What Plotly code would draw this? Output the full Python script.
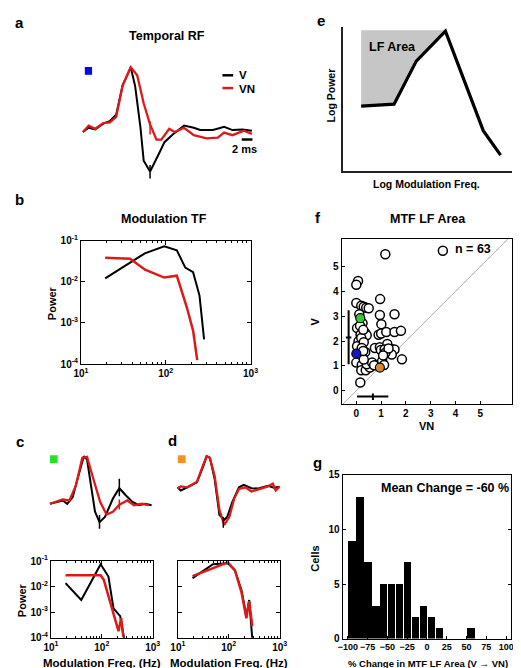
import plotly.graph_objects as go

W, H = 521, 668
FONT = "Liberation Sans, Arial, Helvetica, sans-serif"
RED = "#dd1a1a"
BLK = "#000000"

# ---------------- Panel a: temporal RF (ms, normalized amplitude) ----------------
a_t_v = [0, 1.09, 2.3, 3.82, 5.03, 6.24, 7.45, 8.97, 9.8, 10.8, 11.4, 12.6, 14.1, 15.3, 16.85, 18.97, 20.8, 22.0, 24.4, 26.5, 28.06, 29.9, 31.7]
a_v = [-0.02, 0.046, 0.02, 0.11, 0.15, 0.25, 0.71, 0.995, 0.7, 0.05, -0.47, -0.64, -0.39, -0.18, -0.06, 0.08, 0.046, 0.01, 0.01, 0.06, 0.01, 0.02, 0.0]
a_t_vn = [0, 1.09, 2.3, 3.82, 5.03, 6.24, 7.45, 8.97, 10.18, 11.4, 12.6, 13.8, 14.7, 16.2, 17.2, 18.97, 20.8, 23.2, 25.3, 26.5, 28.06, 30.2, 31.7]
a_vn = [-0.02, 0.08, 0.03, 0.12, 0.13, 0.215, 0.71, 0.995, 0.87, 0.43, 0.1, -0.14, -0.14, 0.03, -0.02, 0.046, -0.07, -0.12, -0.11, -0.03, -0.07, 0.0, -0.05]
a_err_v = (12.6, -0.54, -0.75)
a_err_vn = (12.6, 0.15, -0.06)

# ---------------- Panel b: modulation transfer function ----------------
b_f_v = [19.3, 56.7, 96, 135, 170, 210, 250, 283]
b_p_v = [0.012, 0.049, 0.072, 0.058, 0.022, 0.017, 0.0046, 0.0004]
b_f_vn = [19.3, 38, 57, 96, 135, 176, 210, 235]
b_p_vn = [0.038, 0.036, 0.0196, 0.0126, 0.014, 0.0025, 0.00065, 0.000125]

# ---------------- Panel c: example cell (green) ----------------
c_t_v = [0, 2.5, 4.0, 5.4, 7.1, 8.6, 10.6, 11.6, 13.1, 14.1, 15.5, 17.2, 19.7, 21.7, 23.7, 25.8, 27.8, 29.8, 31.8]
c_v = [-0.01, 0.03, 0.06, -0.01, 0.13, 0.51, 1.0, 0.93, 0.31, -0.18, -0.4, -0.29, 0.1, 0.32, 0.17, 0.03, -0.04, -0.01, -0.04]
c_t_vn = [0, 2.5, 4.0, 6.1, 8.1, 10.1, 11.6, 13.6, 15.7, 17.7, 19.7, 21.7, 24.2, 26.3, 28.8, 30.8]
c_vn = [-0.01, 0.04, 0.08, 0.06, 0.375, 0.965, 0.985, 0.51, 0.03, -0.24, -0.18, -0.03, 0.06, -0.04, -0.01, -0.04]
c_err_v = [(15.5, -0.25, -0.54), (21.7, 0.52, 0.15)]
c_err_vn = [(21.7, 0.08, -0.13)]
c_f_v = [19.4, 39.5, 95, 135, 170, 230, 275]
c_p_v = [0.0137, 0.003, 0.076, 0.025, 0.0014, 0.0007, 0.00009]
c_f_vn = [19.4, 60, 95, 110, 157, 213, 240, 265]
c_p_vn = [0.028, 0.028, 0.028, 0.018, 0.0017, 0.00018, 0.00058, 0.00011]

# ---------------- Panel d: example cell (orange) ----------------
d_t_v = [-0.09, 0.91, 2.94, 5.97, 7.97, 9.0, 10.0, 11.5, 13.0, 14.5, 15.45, 17.0, 19.1, 20.6, 23.0, 25.2, 28.2, 30.0, 31.8]
d_v = [0.01, -0.09, 0.01, 0.17, 0.69, 1.0, 0.95, 0.27, -0.875, -1.03, -0.93, -0.46, 0.01, 0.09, -0.02, -0.03, 0.06, 0.0, 0.03]
d_t_vn = [-0.09, 0.91, 2.94, 5.97, 7.97, 9.0, 10.0, 11.5, 13.0, 14.5, 16.1, 17.6, 19.1, 21.1, 23.0, 25.2, 28.2, 29.7, 30.6, 31.8]
d_vn = [-0.02, 0.04, 0.01, 0.19, 0.74, 1.0, 0.95, 0.375, -0.72, -1.19, -0.93, -0.35, -0.04, 0.01, -0.125, -0.06, 0.04, 0.125, -0.09, 0.03]
d_err_v = [(14.2, -0.94, -1.28)]
d_f_v = [19.4, 49, 96, 132, 178, 222, 252, 290]
d_p_v = [0.0215, 0.076, 0.083, 0.044, 0.0072, 0.0007, 0.003, 0.00009]
d_f_vn = [19.4, 96, 132, 178, 222, 252, 290]
d_p_vn = [0.026, 0.09, 0.044, 0.006, 0.00058, 0.0027, 0.00028]

# ---------------- Panel e: schematic ----------------
e_u = [1.09, 3.03, 4.34, 6.06, 8.29, 9.31]
e_v = [4.49, 4.63, 7.62, 9.69, 2.79, 1.09]
e_top = 9.75

# ---------------- Panel f: MTF LF area scatter ----------------
f_vn = [1.17, 3.49, 0.07, 0.0, 0.96, 0.0, 0.2, 0.3, 0.4, 0.5, 0.12, 0.95, 1.54, 0.25, 1.01, 0.03, 0.22,
        0.36, 0.17, 0.42, 0.9, 1.0, 1.21, 1.54, 1.8, 0.09, 0.2, 0.03, 0.36, 0.75, 0.95, 0.99, 1.25, 1.14,
        1.41, 1.54, 1.43, 1.17, 0.16, 0.0, 0.22, 0.2, 0.38, 0.55, 0.42, 0.64, 0.82, 1.04, 1.12, 1.84, 0.16,
        0.15, 0.28, 0.3, 0.22, 0.3, 0.72, 1.3, 1.08, 0.28]
f_v = [5.5, 5.64, 4.42, 4.27, 3.69, 3.53, 3.42, 3.38, 3.34, 3.32, 3.08, 3.05, 3.08, 2.72, 2.68, 2.52, 2.52,
       2.32, 2.25, 2.23, 2.25, 2.3, 2.36, 2.36, 2.41, 1.99, 2.12, 1.79, 1.56, 1.72, 1.75, 1.64, 1.88, 1.66,
       1.68, 1.66, 1.46, 1.53, 1.35, 1.13, 1.03, 0.82, 0.82, 0.93, 1.06, 1.13, 1.03, 1.19, 1.03, 1.26, 0.33,
       2.62, 2.45, 1.95, 1.72, 1.25, 1.02, 1.7, 1.42, 1.6]
f_hl_vn = [0.0, 0.16, 0.95]
f_hl_v = [1.49, 2.92, 0.93]
f_hl_col = ["#1414c8", "#33cc33", "#d88a2a"]
f_mean_v, f_lo_v, f_hi_v = 2.14, 1.06, 3.24
f_mean_vn, f_lo_vn, f_hi_vn = 0.67, 0.03, 1.29

# ---------------- Panel g: histogram ----------------
g_bins = [-95, -85, -75, -65, -55, -45, -35, -25, -15, -5, 5, 15, 25, 35, 45, 55]
g_counts = [9, 13, 7, 3, 5, 5, 5, 7, 2, 3, 2, 1, 0, 0, 0, 1]
g_ticks = [-100, -75, -50, -25, 0, 25, 50, 75, 100]


def xdom(p0, p1):
    return [p0 / W, p1 / W]


def ydom(p0, p1):
    return [1 - p1 / H, 1 - p0 / H]


def PX(x):
    return x / W


def PY(y):
    return 1 - y / H


def tfont(size=10):
    return dict(family=FONT, size=size, color="black", weight="bold")


fig = go.Figure()


def line(x, y, ax, color, width, **kw):
    fig.add_trace(go.Scatter(x=x, y=y, xaxis="x" + ax, yaxis="y" + ax, mode="lines",
                             line=dict(color=color, width=width), hoverinfo="skip", **kw))


def errs(lst, ax, color, width):
    xs, ys = [], []
    for t, lo, hi in lst:
        xs += [t, t, None]
        ys += [lo, hi, None]
    line(xs, ys, ax, color, width)


# panel a
line(a_t_v, a_v, "", BLK, 2)
line(a_t_vn, a_vn, "", RED, 2.3)
errs([a_err_v], "", BLK, 1.5)
errs([a_err_vn], "", RED, 1.5)

# panel b
line(b_f_v, b_p_v, "2", BLK, 2)
line(b_f_vn, b_p_vn, "2", RED, 2.5)

# panel c
line(c_t_v, c_v, "3", BLK, 2)
line(c_t_vn, c_vn, "3", RED, 2.3)
errs(c_err_v, "3", BLK, 1.5)
errs(c_err_vn, "3", RED, 1.5)
line(c_f_v, c_p_v, "5", BLK, 2)
line(c_f_vn, c_p_vn, "5", RED, 2.5)

# panel d
line(d_t_v, d_v, "4", BLK, 2)
line(d_t_vn, d_vn, "4", RED, 2.3)
errs(d_err_v, "4", BLK, 1.5)
line(d_f_v, d_p_v, "6", BLK, 2)
line(d_f_vn, d_p_vn, "6", RED, 2.5)

# panel e
fig.add_trace(go.Scatter(x=[e_u[0]] + e_u[:4] + [e_u[3], e_u[0]],
                         y=[e_top] + e_v[:4] + [e_top, e_top],
                         xaxis="x7", yaxis="y7", mode="lines", fill="toself",
                         fillcolor="#c6c6c6", line=dict(width=0, color="#c6c6c6"), hoverinfo="skip"))
line(e_u, e_v, "7", BLK, 3.2)

# panel f
line([-1, 7], [-1, 7], "8", "#b0b0b0", 1)
fig.add_trace(go.Scatter(x=f_vn, y=f_v, xaxis="x8", yaxis="y8", mode="markers",
                         marker=dict(size=9, color="white", line=dict(color="black", width=1.5)),
                         hoverinfo="skip"))
fig.add_trace(go.Scatter(x=f_hl_vn, y=f_hl_v, xaxis="x8", yaxis="y8", mode="markers",
                         marker=dict(size=9, color=f_hl_col, line=dict(color="black", width=1.2)),
                         hoverinfo="skip"))
line([-0.31, -0.31, None, -0.42, -0.2], [f_lo_v, f_hi_v, None, f_mean_v, f_mean_v], "8", BLK, 2)
line([f_lo_vn, f_hi_vn, None, f_mean_vn, f_mean_vn], [-0.24, -0.24, None, -0.12, -0.38], "8", BLK, 2)

# panel g
fig.add_trace(go.Bar(x=g_bins, y=g_counts, width=9.3, xaxis="x9", yaxis="y9",
                     marker=dict(color="black", line=dict(width=0)), hoverinfo="skip"))

hidden = dict(visible=False, showgrid=False, zeroline=False)


def logax(dom, rng, anchor, labels=True, minor=False, is_x=True):
    if is_x:
        tv = [10, 100, 1000]
        tt = ["10<sup>1</sup>", "10<sup>2</sup>", "10<sup>3</sup>"]
    else:
        tv = [1e-4, 1e-3, 1e-2, 1e-1]
        tt = ["10<sup>-4</sup>", "10<sup>-3</sup>", "10<sup>-2</sup>", "10<sup>-1</sup>"]
    d = dict(domain=dom, anchor=anchor, type="log", range=rng, tickvals=tv, ticktext=tt,
             showticklabels=labels, ticks="inside", ticklen=4, tickcolor="black", showline=True,
             linecolor="black", linewidth=1, mirror="ticks", showgrid=False, zeroline=False,
             tickfont=tfont(10), fixedrange=True, tickangle=0)
    if minor:
        d["minor"] = dict(ticks="inside", ticklen=2, tickcolor="black",
                          tickvals=[20, 30, 40, 50, 60, 70, 80, 90, 200, 300, 400, 500, 600, 700, 800, 900],
                          showgrid=False)
    return d


def boxlin(size=10):
    return dict(showline=True, linecolor="black", linewidth=1, showgrid=False, zeroline=False,
                ticks="inside", ticklen=3, tickcolor="black", tickfont=tfont(size), tickangle=0)


fig.update_layout(
    width=W, height=H, margin=dict(l=0, r=0, t=0, b=0),
    paper_bgcolor="white", plot_bgcolor="white", showlegend=False,
    font=dict(family=FONT, size=10, color="black", weight="bold"),
    xaxis=dict(domain=xdom(60, 252), anchor="y", range=[-1.64, 33.27], **hidden),
    yaxis=dict(domain=ydom(40, 175), anchor="x", range=[-0.877, 1.2], **hidden),
    xaxis2=logax(xdom(67, 242), [1, 3], "y2", minor=True),
    yaxis2=logax(ydom(230, 356), [-4, -1], "x2", is_x=False),
    xaxis3=dict(domain=xdom(30, 150), anchor="y3", range=[-1.52, 34.85], **hidden),
    yaxis3=dict(domain=ydom(440, 530), anchor="x3", range=[-0.667, 1.208], **hidden),
    xaxis4=dict(domain=xdom(160, 280), anchor="y4", range=[-2.12, 34.24], **hidden),
    yaxis4=dict(domain=ydom(440, 530), anchor="x4", range=[-1.5, 1.3125], **hidden),
    xaxis5=logax(xdom(36, 141), [1, 3], "y5", minor=True),
    yaxis5=logax(ydom(557, 635), [-4, -1], "x5", is_x=False),
    xaxis6=logax(xdom(167, 272), [1, 3], "y6", minor=True),
    yaxis6=logax(ydom(557, 635), [-4, -1], "x6", labels=False, is_x=False),
    xaxis7=dict(domain=xdom(337, 512), anchor="y7", range=[0, 10], showline=True, linecolor="#222",
                linewidth=1.5, showticklabels=False, ticks="", showgrid=False, zeroline=False),
    yaxis7=dict(domain=ydom(12, 159), anchor="x7", range=[0, 10], showline=True, linecolor="#222",
                linewidth=1.5, showticklabels=False, ticks="", showgrid=False, zeroline=False),
    xaxis8=dict(domain=xdom(336, 512), anchor="y8", range=[-0.59, 6.29], tickvals=[0, 1, 2, 3, 4, 5],
                mirror=True, **boxlin()),
    yaxis8=dict(domain=ydom(228, 397), anchor="x8", range=[-0.55, 6.13], tickvals=[0, 1, 2, 3, 4, 5],
                mirror=True, **boxlin()),
    xaxis9=dict(domain=xdom(337, 511), anchor="y9", range=[-106.5, 106.5],
                tickvals=g_ticks, mirror=True, **boxlin(9)),
    yaxis9=dict(domain=ydom(469, 636), anchor="x9", range=[0, 15], tickvals=[0, 5, 10, 15],
                mirror="ticks", **boxlin()),
    bargap=0,
)


def ann(text, x, y, size, angle=0, xanchor="center"):
    return dict(text=text, x=PX(x), y=PY(y), xref="paper", yref="paper", showarrow=False,
                font=tfont(size), textangle=angle, xanchor=xanchor, yanchor="middle")


anns = [
    ann("a", 4, 8, 15), ann("b", 4, 188, 15), ann("c", 4, 435, 15), ann("d", 161, 434, 15),
    ann("e", 315, 6, 15), ann("f", 312, 207, 15), ann("g", 311, 456, 15),
    ann("Temporal RF", 156, 21, 12.5),
    ann("V", 228, 61.5, 11.5, xanchor="left"), ann("VN", 228, 75, 11.5, xanchor="left"),
    ann("2 ms", 236, 137, 11),
    ann("Modulation TF", 153, 208, 12.5),
    ann("Power", 37, 294, 11, angle=-90),
    ann("Power", 7, 597, 11, angle=-90),
    ann("Modulation Freq. (Hz)", 89, 661, 11.5),
    ann("Modulation Freq. (Hz)", 220, 661, 11.5),
    ann("LF Area", 388, 33, 12.5),
    ann("Log Power", 325, 82, 10.5, angle=-90),
    ann("Log Modulation Freq.", 423, 172, 10.5),
    ann("MTF LF Area", 425, 208, 12.5),
    ann("n = 63", 471, 239, 12.5),
    ann("V", 308, 313, 11, angle=-90),
    ann("VN", 424, 419, 11),
    ann("Mean Change = -60 %", 443, 482, 12.5),
    ann("Cells", 309, 555, 11, angle=-90),
    ann("% Change in MTF LF Area (V \u2192 VN)", 425, 661, 9.5),
]

shapes = [
    dict(type="line", xref="paper", yref="paper", x0=PX(213), x1=PX(224), y0=PY(61.5), y1=PY(61.5),
         line=dict(color=BLK, width=2.5)),
    dict(type="line", xref="paper", yref="paper", x0=PX(213), x1=PX(224), y0=PY(74.5), y1=PY(74.5),
         line=dict(color=RED, width=2.5)),
    dict(type="line", xref="x", yref="y", x0=29.8, x1=31.8, y0=-0.14, y1=-0.14,
         line=dict(color=BLK, width=2.5)),
    dict(type="rect", xref="paper", yref="paper", x0=PX(71), x1=PX(78.5), y0=PY(61), y1=PY(53),
         fillcolor="#0a0ae6", line=dict(width=0)),
    dict(type="rect", xref="paper", yref="paper", x0=PX(35), x1=PX(43), y0=PY(457), y1=PY(449),
         fillcolor="#22e622", line=dict(width=0)),
    dict(type="rect", xref="paper", yref="paper", x0=PX(167), x1=PX(175), y0=PY(457), y1=PY(449),
         fillcolor="#f29424", line=dict(width=0)),
]

fig.update_layout(annotations=anns, shapes=shapes)
fig.write_html("out.html")
